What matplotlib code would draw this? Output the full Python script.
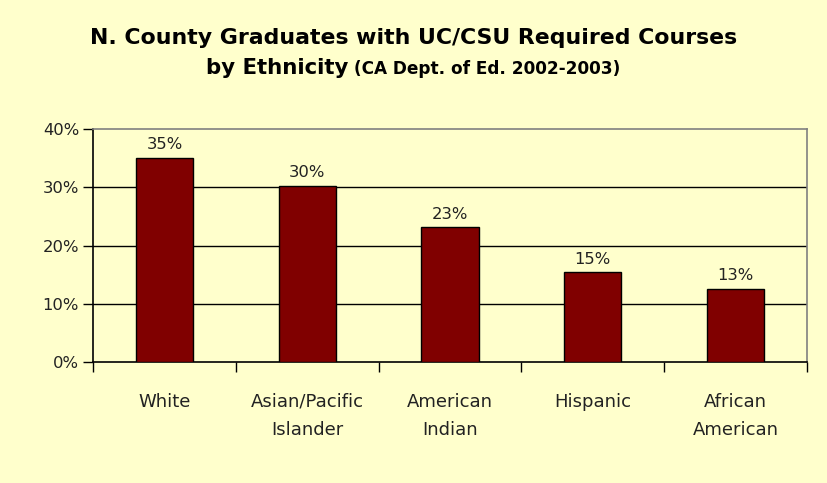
import matplotlib
matplotlib.use("Agg")
import matplotlib.pyplot as plt
from matplotlib.ticker import FuncFormatter, FixedLocator
import numpy as np

categories = ["White", "Asian/Pacific\nIslander", "American\nIndian", "Hispanic", "African\nAmerican"]
values = [35.1, 30.3, 23.2, 15.4, 12.6]
yticks = [0, 10, 20, 30, 40]

BG = "#FFFFCC"
BAR = "#800000"
FONT = "DejaVu Sans"

fig = plt.figure(figsize=(8.27, 4.83), dpi=100, facecolor=BG)
ax = fig.add_axes([93/827, 1-362/483, (807-93)/827, (362-129)/483])
ax.set_facecolor(BG)

x = np.arange(len(categories))
ax.bar(x, values, width=0.40, color=BAR, edgecolor="black", linewidth=1.0, zorder=3)
for xi, v in zip(x, values):
    ax.text(xi, v + 0.9, f"{v:.0f}%", ha="center", va="bottom", fontsize=11.8,
            family=FONT, color="#222222", zorder=4)

ax.set_xlim(-0.5, len(categories) - 0.5)
ax.set_ylim(0, 40)
ax.set_yticks(yticks)
ax.yaxis.set_major_formatter(FuncFormatter(lambda v, p: f"{v:.0f}%"))
for t in yticks[1:4]:
    ax.axhline(t, color="black", linewidth=1.0, zorder=1)

ax.set_xticks(x)
ax.set_xticklabels(categories, fontsize=13, family=FONT, linespacing=1.78, color="#222222")
ax.xaxis.set_minor_locator(FixedLocator(np.arange(len(categories) + 1) - 0.5))
ax.tick_params(axis="x", which="major", length=0, pad=22)
ax.tick_params(axis="x", which="minor", length=7, width=1, direction="out")
ax.tick_params(axis="y", length=7, width=1, direction="out", labelsize=11.8, pad=3,
               labelcolor="#222222")
for lab in ax.get_yticklabels():
    lab.set_family(FONT)

ax.spines["left"].set_color("black")
ax.spines["bottom"].set_color("black")
ax.spines["top"].set_color("#808080")
ax.spines["right"].set_color("#808080")
for s in ax.spines.values():
    s.set_linewidth(1.2)

fig.text(0.5, 1 - 44/483, "N. County Graduates with UC/CSU Required Courses",
         ha="center", va="baseline", fontsize=15.8, fontweight="bold", family=FONT)
t1 = fig.text(0, 1 - 74/483, "by Ethnicity", ha="left", va="baseline", fontsize=15.3,
              fontweight="bold", family=FONT)
t2 = fig.text(0, 1 - 74/483, " (CA Dept. of Ed. 2002-2003)", ha="left", va="baseline", fontsize=12.2,
              fontweight="bold", family=FONT)
fig.canvas.draw()
r = fig.canvas.get_renderer()
w1 = t1.get_window_extent(r).width
w2 = t2.get_window_extent(r).width
W = fig.bbox.width
start = (W - (w1 + w2)) / 2
t1.set_x(start / W)
t2.set_x((start + w1) / W)

fig.savefig("out.png", dpi=100, facecolor=BG)
